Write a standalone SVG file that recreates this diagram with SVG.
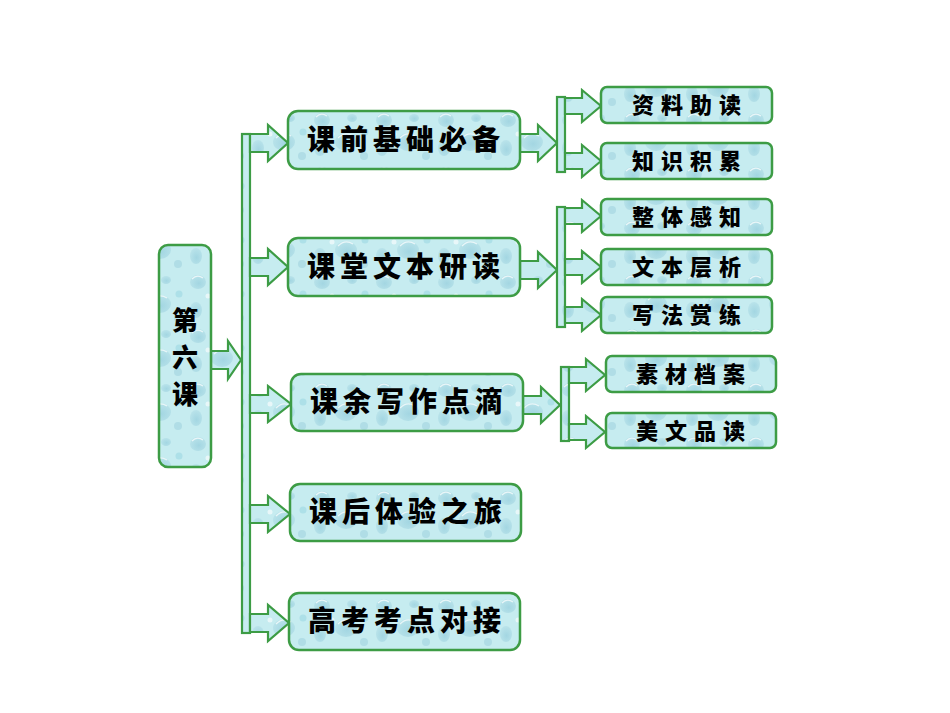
<svg xmlns="http://www.w3.org/2000/svg" width="950" height="713" viewBox="0 0 950 713">
<defs>
<radialGradient id="dg" cx="0.55" cy="0.6" r="0.6">
<stop offset="0" stop-color="#a3d6e2"/>
<stop offset="1" stop-color="#b9e3ea"/>
</radialGradient>
<pattern id="drops" width="62" height="54" patternUnits="userSpaceOnUse">
<rect width="62" height="54" fill="#c6ecf0"/>
<ellipse cx="12" cy="12" rx="8" ry="7" fill="url(#dg)"/>
<path d="M6,9 q5,-5 11,-1" fill="none" stroke="#ffffff" stroke-width="1.2" opacity="0.7"/>
<ellipse cx="42" cy="10" rx="5" ry="4" fill="url(#dg)"/>
<ellipse cx="36" cy="34" rx="11" ry="9" fill="url(#dg)"/>
<path d="M28,30 q7,-7 15,-2" fill="none" stroke="#ffffff" stroke-width="1.3" opacity="0.7"/>
<ellipse cx="10" cy="40" rx="6" ry="8" fill="url(#dg)"/>
<circle cx="55" cy="24" r="3.5" fill="#ade0e8"/>
<circle cx="22" cy="26" r="2.5" fill="#ffffff" opacity="0.6"/>
<circle cx="54" cy="48" r="4" fill="#b0dde6"/>
</pattern>
<style>
.box{fill:url(#drops);stroke:#3d9c45;stroke-width:2.5}
.conn{fill:url(#drops);stroke:#3d9c45;stroke-width:2.2;stroke-linejoin:miter}
.t1{font-family:"Noto Sans CJK SC","Noto Sans CJK JP",sans-serif;font-weight:900;font-size:28px;fill:#000;letter-spacing:5px;text-anchor:middle}
.t2{font-family:"Noto Sans CJK SC","Noto Sans CJK JP",sans-serif;font-weight:900;font-size:22px;fill:#000;letter-spacing:7px;text-anchor:middle}
.t0{font-family:"Noto Sans CJK SC","Noto Sans CJK JP",sans-serif;font-weight:900;font-size:26px;fill:#000;text-anchor:middle}
</style>
</defs>
<rect width="950" height="713" fill="#ffffff"/>

<g id="connectors">
<polygon class="conn" points="211,351 228,351 228,341 241,360 228,379 228,369 211,369"/>
<rect class="conn" x="242" y="134" width="8" height="499"/>
<polygon class="conn" points="250,134 268,134 268,125 288,143 268,161 268,152 250,152"/>
<polygon class="conn" points="250,258 268,258 268,249 288,267 268,285 268,276 250,276"/>
<polygon class="conn" points="250,395 268,395 268,386 291,404 268,422 268,413 250,413"/>
<polygon class="conn" points="250,505 268,505 268,496 290,514 268,532 268,523 250,523"/>
<polygon class="conn" points="250,614 268,614 268,605 289,623 268,641 268,632 250,632"/>
<polygon class="conn" points="520,134 538,134 538,125 557,143 538,161 538,152 520,152"/>
<rect class="conn" x="557" y="97" width="8" height="75"/>
<polygon class="conn" points="565,98 582,98 582,90 601,106 582,122 582,114 565,114"/>
<polygon class="conn" points="565,153 582,153 582,145 601,161 582,177 582,169 565,169"/>
<polygon class="conn" points="520,261 538,261 538,252 557,270 538,288 538,279 520,279"/>
<rect class="conn" x="557" y="207" width="8" height="120"/>
<polygon class="conn" points="565,208 582,208 582,200 601,216 582,232 582,224 565,224"/>
<polygon class="conn" points="565,259 582,259 582,251 601,267 582,283 582,275 565,275"/>
<polygon class="conn" points="565,307 582,307 582,299 601,315 582,331 582,323 565,323"/>
<polygon class="conn" points="523,396 541,396 541,387 560,405 541,423 541,414 523,414"/>
<rect class="conn" x="561" y="367" width="8" height="74"/>
<polygon class="conn" points="569,367 586,367 586,359 605,375 586,391 586,383 569,383"/>
<polygon class="conn" points="569,424 586,424 586,416 605,432 586,448 586,440 569,440"/>
</g>

<g id="n0"><rect class="box" x="159" y="245" width="52" height="222" rx="9"/>
<text class="t0" x="185" y="330">第</text><text class="t0" x="185" y="367">六</text><text class="t0" x="185" y="404">课</text></g>

<g id="n1"><rect class="box" x="288" y="111" width="232" height="58" rx="10"/><text class="t1" x="406" y="150">课前基础必备</text></g>
<g id="n2"><rect class="box" x="288" y="238" width="232" height="58" rx="10"/><text class="t1" x="406" y="277">课堂文本研读</text></g>
<g id="n3"><rect class="box" x="291" y="374" width="232" height="57" rx="10"/><text class="t1" x="409" y="412">课余写作点滴</text></g>
<g id="n4"><rect class="box" x="290" y="484" width="231" height="57" rx="10"/><text class="t1" x="408" y="522">课后体验之旅</text></g>
<g id="n5"><rect class="box" x="289" y="593" width="231" height="57" rx="10"/><text class="t1" x="407" y="631">高考考点对接</text></g>

<g id="n11"><rect class="box" x="601" y="87" width="171" height="36" rx="6"/><text class="t2" x="690" y="113">资料助读</text></g>
<g id="n12"><rect class="box" x="601" y="143" width="171" height="36" rx="6"/><text class="t2" x="690" y="169">知识积累</text></g>
<g id="n21"><rect class="box" x="601" y="199" width="171" height="36" rx="6"/><text class="t2" x="690" y="225">整体感知</text></g>
<g id="n22"><rect class="box" x="601" y="249" width="171" height="36" rx="6"/><text class="t2" x="690" y="275">文本层析</text></g>
<g id="n23"><rect class="box" x="601" y="297" width="171" height="36" rx="6"/><text class="t2" x="690" y="323">写法赏练</text></g>
<g id="n31"><rect class="box" x="606" y="356" width="170" height="36" rx="6"/><text class="t2" x="694" y="382">素材档案</text></g>
<g id="n32"><rect class="box" x="606" y="413" width="170" height="35" rx="6"/><text class="t2" x="694" y="439">美文品读</text></g>
</svg>
